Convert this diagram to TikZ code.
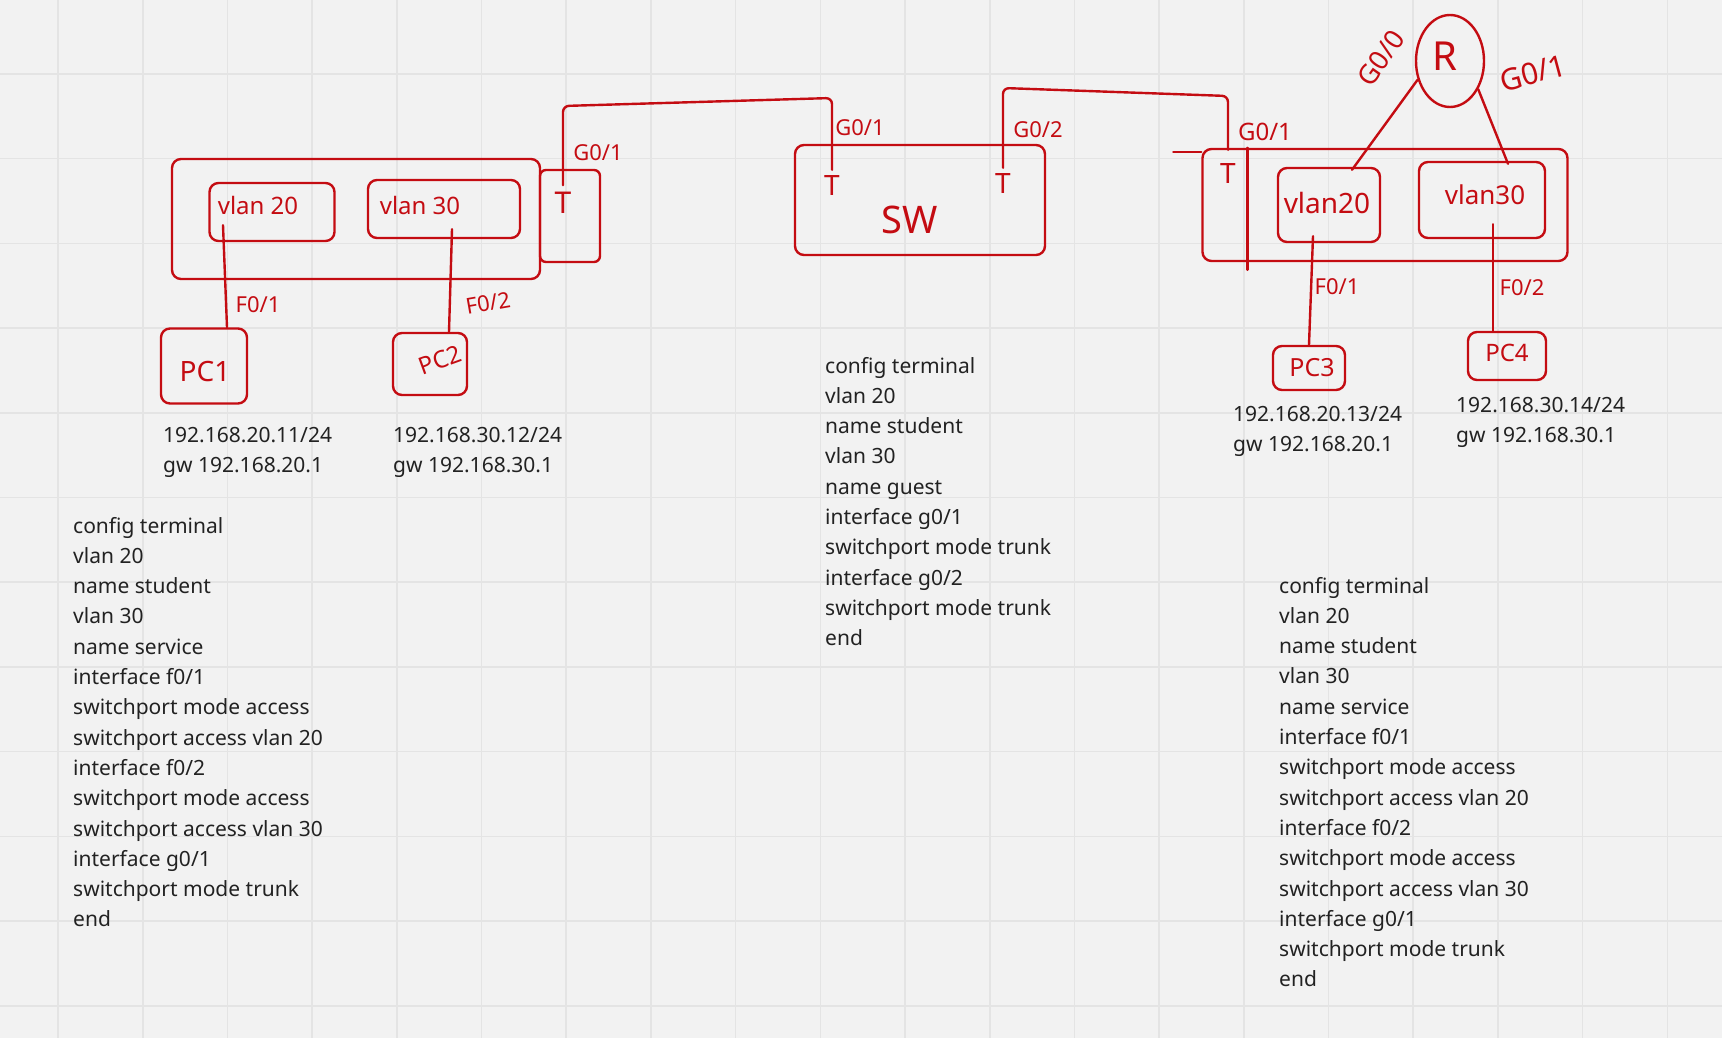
\documentclass[tikz,border=0pt]{standalone}
\usepackage{fontspec}
\setmainfont{Noto Sans}
\usetikzlibrary{shapes.geometric}
\definecolor{ink}{RGB}{196,12,18}
\definecolor{bg}{RGB}{242,242,242}
\definecolor{gridc}{RGB}{228,228,228}
\definecolor{txt}{RGB}{34,34,34}
\begin{document}
\begin{tikzpicture}[x=1pt,y=-1pt,
  pen/.style={draw=ink, line width=2.4pt, line cap=round, line join=round},
  box/.style={pen, rounded corners=9pt, rectangle, inner sep=0pt},
  hand/.style={text=ink, inner sep=0pt, font=\fontsize{#1}{#1}\selectfont},
  hand/.default=22,
  code/.style={text=txt, anchor=base west, align=left, inner sep=0pt, font=\fontsize{21}{30.3}\selectfont},
]
\fill[bg] (0,0) rectangle (1722,1038);
\useasboundingbox (0,0) rectangle (1722,1038);
\foreach \i in {0,...,19} \draw[gridc, line width=1.6pt] ({58+84.7*\i},0) -- ({58+84.7*\i},1038);
\foreach \j in {0,...,11} \draw[gridc, line width=1.6pt] (0,{74+84.7*\j}) -- (1722,{74+84.7*\j});

% ---------- left switch ----------
\node[box, minimum width=368pt, minimum height=120pt] (lsw) at (356,219) {};
\node[box, rounded corners=6pt, minimum width=60pt, minimum height=92pt] (ltr) at (570,216) {};
\node[box, minimum width=125pt, minimum height=58pt] (vlan20L) at (272,212) {};
\node[box, minimum width=152pt, minimum height=58pt] (vlan30L) at (444,209) {};
\node[hand=24] (tv20L) at (258,205) {vlan 20};
\node[hand=24] (tv30L) at (420,205) {vlan 30};
\node[hand=30] (ltT) at (563,203) {T};
\node[hand=22] (lG) at (598,153) {G0/1};
\node[box, minimum width=86pt, minimum height=75pt] (PC1) at (204,366) {};
\node[box, minimum width=74pt, minimum height=62pt] (PC2) at (430,364) {};
\node[hand=28] (tPC1) at (205,372) {PC1};
\node[hand=24, rotate=20] (tPC2) at (440,360) {PC2};
\draw[pen] ([xshift=-49pt,yshift=17pt]vlan20L.south) -- ([xshift=23pt]PC1.north);
\draw[pen] ([xshift=8pt,yshift=10pt]vlan30L.south) -- ([xshift=19pt]PC2.north);
\node[hand=22] (lF1) at (258,305) {F0/1};
\node[hand=22, rotate=10] (lF2) at (488,303) {F0/2};

% ---------- center switch ----------
\node[box, minimum width=250pt, minimum height=110pt] (SW) at (920,200) {};
\node[hand=38] (tSW) at (910,220) {SW};
\node[hand=28] (swT1) at (832,186) {T};
\node[hand=28] (swT2) at (1003,184) {T};
\node[hand=22] (swG1) at (860,128) {G0/1};
\node[hand=22] (swG2) at (1038,130) {G0/2};
\draw[pen, rounded corners=6pt] ([yshift=7pt]ltT.north) -- (ltT.north |- 0,106) -- (swT1.north |- 0,98) -- ([yshift=6pt]swT1.north);

% ---------- right switch ----------
\node[box, minimum width=365pt, minimum height=112pt] (rsw) at (1385,205) {};
\draw[pen] ([yshift=-4pt]rsw.north west) -- ++(-28,0);
\draw[pen] ([xshift=46pt]rsw.north west) -- ++(0,122);
\node[hand=28] (rT) at (1228,174) {T};
\node[hand=24] (rG) at (1265,132) {G0/1};
\draw[pen, rounded corners=6pt] ([yshift=6pt]swT2.north) -- (swT2.north |- 0,88) -- (rT.north |- 0,96) -- ([yshift=14pt]rT.north);
\node[box, minimum width=102pt, minimum height=74pt] (vlan20R) at (1329,205) {};
\node[box, minimum width=126pt, minimum height=76pt] (vlan30R) at (1482,200) {};
\node[hand=28] (tv20R) at (1327,203) {vlan20};
\node[hand=26] (tv30R) at (1485,195) {vlan30};
\node[pen, ellipse, minimum width=68pt, minimum height=92pt, inner sep=0pt] (R) at (1450,61) {};
\node[hand=40] (tR) at (1445,56) {R};
\node[hand=27, rotate=55] (rG0) at (1381,58) {G0/0};
\node[hand=30, rotate=15] (rG1) at (1533,73) {G0/1};
\draw[pen] (R.210) -- ([xshift=23pt,yshift=-3pt]vlan20R.north);
\draw[pen] (R.315) -- ([xshift=26pt,yshift=-3pt]vlan30R.north);
\node[box, minimum width=72pt, minimum height=44pt] (PC3) at (1309,368) {};
\node[box, minimum width=78pt, minimum height=48pt] (PC4) at (1507,356) {};
\node[hand=25] (tPC3) at (1312,368) {PC3};
\node[hand=24] (tPC4) at (1507,353) {PC4};
\draw[pen] ([xshift=-16pt,yshift=7pt]vlan20R.south) -- (PC3.north);
\draw[pen] ([xshift=11pt,yshift=15pt]vlan30R.south) -- ([xshift=-14pt]PC4.north);
\node[hand=22] (rF1) at (1337,287) {F0/1};
\node[hand=22] (rF2) at (1522,288) {F0/2};

% ---------- texts (anchor = baseline of last line) ----------
\node[code] (ip1) at (163,472.3) {192.168.20.11/24\\gw 192.168.20.1};
\node[code] (ip2) at (393,472.3) {192.168.30.12/24\\gw 192.168.30.1};
\node[code] (ip3) at (1233,451.3) {192.168.20.13/24\\gw 192.168.20.1};
\node[code] (ip4) at (1456,442.3) {192.168.30.14/24\\gw 192.168.30.1};
\node[code] (cfgL) at (73,926.9) {config terminal\\vlan 20\\name student\\vlan 30\\name service\\interface f0/1\\switchport mode access\\switchport access vlan 20\\interface f0/2\\switchport mode access\\switchport access vlan 30\\interface g0/1\\switchport mode trunk\\end};
\node[code] (cfgS) at (825,645.7) {config terminal\\vlan 20\\name student\\vlan 30\\name guest\\interface g0/1\\switchport mode trunk\\interface g0/2\\switchport mode trunk\\end};
\node[code] (cfgR) at (1279,986.9) {config terminal\\vlan 20\\name student\\vlan 30\\name service\\interface f0/1\\switchport mode access\\switchport access vlan 20\\interface f0/2\\switchport mode access\\switchport access vlan 30\\interface g0/1\\switchport mode trunk\\end};
\end{tikzpicture}
\end{document}
